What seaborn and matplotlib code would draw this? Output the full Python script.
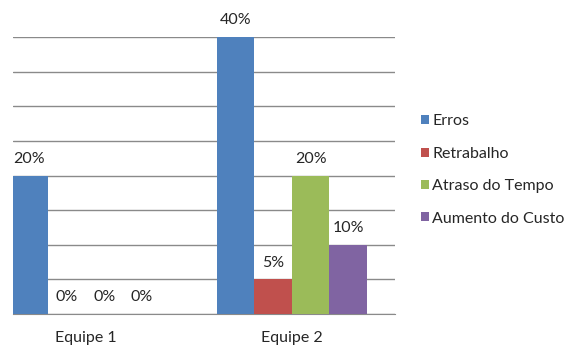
import matplotlib
matplotlib.use("Agg")
import matplotlib.pyplot as plt
from matplotlib.patches import Patch
import pandas as pd
import seaborn as sns

teams = ["Equipe 1", "Equipe 2"]
series = ["Erros", "Retrabalho", "Atraso do Tempo", "Aumento do Custo"]
erros = [20, 40]
retrabalho = [0, 5]
atraso = [0, 20]
aumento = [0, 10]
colors = ["#4F81BD", "#C0504D", "#9BBB59", "#8064A2"]

values = [erros, retrabalho, atraso, aumento]
rows = []
for name, vals in zip(series, values):
    for team, v in zip(teams, vals):
        rows.append({"team": team, "serie": name, "pct": v})
df = pd.DataFrame(rows)

sns.set_style("white")
plt.rcParams["font.family"] = ["Lato", "DejaVu Sans"]
FS = 11.5

fig = plt.figure(figsize=(5.67, 3.45), dpi=100)
ax = fig.add_axes([13 / 567, 31 / 345, 382 / 567, 277 / 345])

sns.barplot(data=df, x="team", y="pct", hue="serie", order=teams,
            hue_order=series, palette=colors, width=0.7264, gap=0,
            saturation=1, linewidth=0, ax=ax, legend=False, zorder=3)

ax.set_xlim(-0.351, 1.5)
ax.set_ylim(0, 40)
ax.set_yticks(range(0, 41, 5))
ax.set_yticklabels([])
ax.yaxis.grid(True, color="#8A8A8A", linewidth=1)
ax.set_axisbelow(True)
for side in ["left", "right", "top"]:
    ax.spines[side].set_visible(False)
ax.spines["bottom"].set_color("#8A8A8A")
ax.tick_params(axis="both", length=0)
ax.tick_params(axis="x", labelsize=FS, pad=12)
ax.set_xlabel("")
ax.set_ylabel("")

# rotulos de dados acima das barras
for cont in ax.containers:
    for bar in cont:
        h = bar.get_height()
        ax.annotate(f"{h:.0f}%", (bar.get_x() + bar.get_width() / 2, h),
                    xytext=(0, 12), textcoords="offset points",
                    ha="center", va="center", fontsize=FS,
                    annotation_clip=False)

handles = [Patch(facecolor=c, edgecolor="none", label=s)
           for s, c in zip(series, colors)]
fig.legend(handles=handles, loc="center left",
           bbox_to_anchor=(421 / 567, 1 - 170 / 345), frameon=False,
           borderpad=0, borderaxespad=0,
           fontsize=FS, handlelength=0.5, handleheight=0.5,
           handletextpad=0.2, labelspacing=1.15)

fig.savefig("out.png", dpi=100)
